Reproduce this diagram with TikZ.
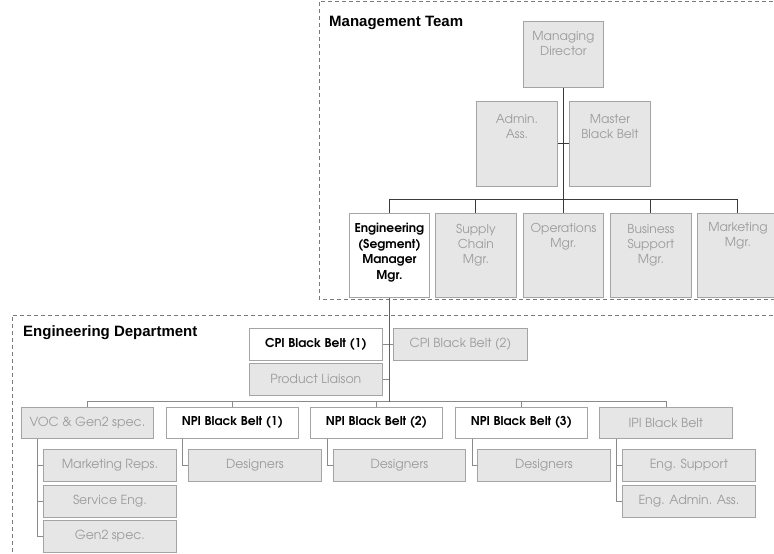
\documentclass[tikz,border=0pt]{standalone}
\usepackage{fontspec}
\setmainfont{Liberation Sans}
\newfontfamily\geo{TeX Gyre Adventor}
\usetikzlibrary{calc}
\definecolor{boxfill}{HTML}{E6E6E6}
\definecolor{boxline}{HTML}{A4A4A4}
\definecolor{boxtext}{HTML}{9C9C9C}
\definecolor{frame}{HTML}{7A7A7A}
\definecolor{mlinkc}{HTML}{3A3A3A}
\definecolor{elinkc}{HTML}{8A8A8A}

\begin{document}
\begin{tikzpicture}[x=1pt,y=-1pt,
  orgbox/.style={draw=boxline, fill=boxfill, line width=0.8pt, inner sep=0pt,
    anchor=north west, text=boxtext, align=center,
    font=\geo\fontsize{12.5}{15}\selectfont},
  keybox/.style={orgbox, fill=white, text=black,
    font=\geo\bfseries\fontsize{12.2}{15}\selectfont},
  boxlabel/.style={anchor=north, inner sep=0pt, align=center, text=boxtext,
    font=\geo\fontsize{12.3}{15}\selectfont},
  keylabel/.style={boxlabel, text=black, font=\geo\bfseries\fontsize{12.2}{15.6}\selectfont},
  team/.style={draw=frame, line width=0.8pt, dash pattern=on 4pt off 3pt},
  teamtitle/.style={anchor=base west, inner sep=0pt, font=\bfseries\fontsize{15}{18}\selectfont},
  mlink/.style={draw=mlinkc, line width=0.9pt},
  elink/.style={draw=elinkc, line width=0.8pt},
  trunk/.style={draw=mlinkc!80, line width=0.9pt}
]
\useasboundingbox[fill=white] (0,0) rectangle (774,554);

% team frames
\draw[team] (780,1) -- (319,1) -- (319,299) -- (780,299);
\draw[team] (780,315) -- (12,315) -- (12,560);
\node[teamtitle] (mgmt) at (329,27) {Management Team};
\node[teamtitle] (engdept) at (23,336) {Engineering Department};

% management team
\node[orgbox, minimum width=80pt, minimum height=66pt] (md) at (523,21) {};
\node[boxlabel] (mdt) at ($(md.north)+(0,10)$) {Managing\\Director};
\node[orgbox, minimum width=81pt, minimum height=85pt] (adm) at (476,101) {};
\node[boxlabel] (admt) at ($(adm.north)+(0,13)$) {Admin.\\Ass.};
\node[orgbox, minimum width=81pt, minimum height=85pt] (mbb) at (569,101) {};
\node[boxlabel] (mbbt) at ($(mbb.north)+(0,13)$) {Master\\Black Belt};

\node[orgbox, fill=white, minimum width=80pt, minimum height=84pt] (eng) at (349,213) {};
\node[keylabel] (engt) at ($(eng.north)+(0,10)$) {Engineering\\(Segment)\\Manager\\Mgr.};
\node[orgbox, minimum width=81pt, minimum height=84pt] (sc) at (435,213) {};
\node[boxlabel] (sct) at ($(sc.north)+(0,11)$) {Supply\\Chain\\Mgr.};
\node[orgbox, minimum width=80pt, minimum height=84pt] (ops) at (523,213) {};
\node[boxlabel] (opst) at ($(ops.north)+(0,10)$) {Operations\\Mgr.};
\node[orgbox, minimum width=81pt, minimum height=84pt] (bs) at (610,213) {};
\node[boxlabel] (bst) at ($(bs.north)+(0,11)$) {Business\\Support\\Mgr.};
\node[orgbox, minimum width=81pt, minimum height=84pt] (mkt) at (697,213) {};
\node[boxlabel] (mktt) at ($(mkt.north)+(0,9)$) {Marketing\\Mgr.};

\coordinate (mbus) at ($(md.south)+(0,112)$);
\draw[mlink] (md.south) -- (mbus);
\draw[mlink] (adm.east) -- (mbb.west);
\draw[mlink] (eng.north) |- (mbus) -| (mkt.north);
\draw[mlink] (sc.north) -- (sc.north |- mbus);
\draw[mlink] (ops.north) -- (ops.north |- mbus);
\draw[mlink] (bs.north) -- (bs.north |- mbus);

% engineering department
\node[keybox, minimum width=133pt, minimum height=32pt] (cpi1) at (249,328) {CPI Black Belt (1)};
\node[orgbox, minimum width=134pt, minimum height=32pt] (cpi2) at (393,328) {CPI Black Belt (2)};
\node[orgbox, minimum width=133pt, minimum height=32pt] (pl) at (249,363) {Product Liaison};

\node[orgbox, minimum width=132pt, minimum height=31pt] (voc) at (21,407) {VOC \& Gen2 spec.};
\node[keybox, minimum width=132pt, minimum height=31pt] (npi1) at (166,407) {NPI Black Belt (1)};
\node[keybox, minimum width=132pt, minimum height=31pt] (npi2) at (310,407) {NPI Black Belt (2)};
\node[keybox, minimum width=132pt, minimum height=31pt] (npi3) at (455,407) {NPI Black Belt (3)};
\node[orgbox, minimum width=133pt, minimum height=31pt] (ipi) at (599,407) {IPI Black Belt};

\node[orgbox, minimum width=133pt, minimum height=32pt] (mr) at (43,449) {Marketing Reps.};
\node[orgbox, minimum width=133pt, minimum height=32pt] (se) at (43,485) {Service Eng.};
\node[orgbox, minimum width=133pt, minimum height=32pt] (g2) at (43,520) {Gen2 spec.};
\node[orgbox, minimum width=133pt, minimum height=32pt] (d1) at (188,449) {Designers};
\node[orgbox, minimum width=132pt, minimum height=32pt] (d2) at (333,449) {Designers};
\node[orgbox, minimum width=133pt, minimum height=32pt] (d3) at (477,449) {Designers};
\node[orgbox, minimum width=133pt, minimum height=32pt] (es) at (622,449) {Eng. Support};
\node[orgbox, minimum width=133pt, minimum height=32pt] (eaa) at (622,485) {Eng. Admin. Ass.};

\coordinate (ebus) at ($(eng.south)+(0,104)$);
\draw[elink] (cpi1.east) -- (cpi2.west);
\draw[elink] (pl.east) -- (pl.east -| eng.south);
\draw[elink] (voc.north) |- (ebus) -| (ipi.north);
\draw[elink] (npi1.north) -- (npi1.north |- ebus);
\draw[elink] (npi2.north) -- (npi2.north |- ebus);
\draw[elink] (npi3.north) -- (npi3.north |- ebus);
\draw[trunk] (eng.south) -- (ebus);

\coordinate (vocx) at ($(voc.south west)+(16,0)$);
\draw[elink] (vocx) |- (g2.west);
\draw[elink] (mr.west) -- (mr.west -| vocx);
\draw[elink] (se.west) -- (se.west -| vocx);
\draw[elink] ($(npi1.south west)+(16,0)$) |- (d1.west);
\draw[elink] ($(npi2.south west)+(17,0)$) |- (d2.west);
\draw[elink] ($(npi3.south west)+(17,0)$) |- (d3.west);
\coordinate (ipix) at ($(ipi.south west)+(17,0)$);
\draw[elink] (ipix) |- (eaa.west);
\draw[elink] (es.west) -- (es.west -| ipix);
\end{tikzpicture}
\end{document}
